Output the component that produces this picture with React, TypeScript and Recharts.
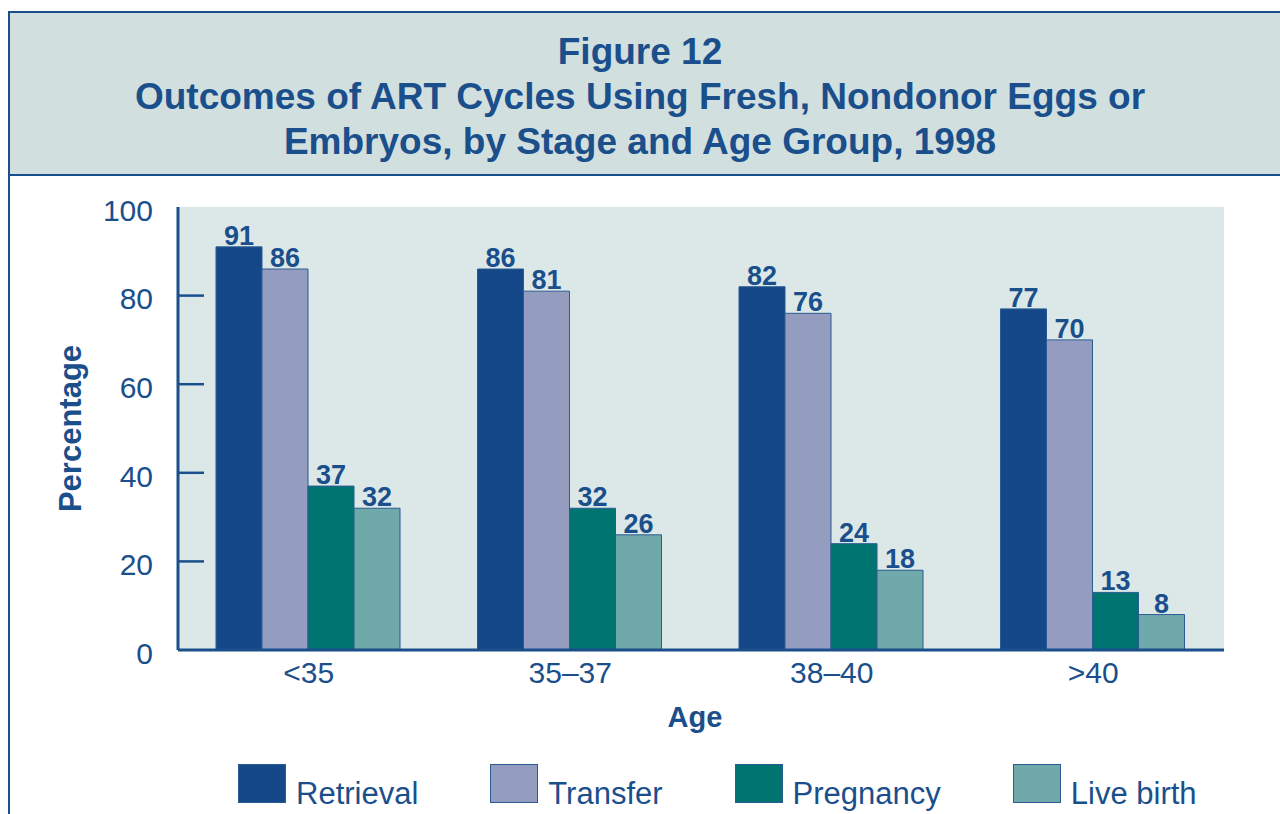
import { Bar, BarChart, CartesianGrid, LabelList, Legend, XAxis, YAxis } from "recharts";

// Age groups and outcome percentages (1998)
const ageGroups = ["<35", "35–37", "38–40", ">40"];
const retrieval = [91, 86, 82, 77];
const transfer = [86, 81, 76, 70];
const pregnancy = [37, 32, 24, 13];
const liveBirth = [32, 26, 18, 8];
const yTicks = [0, 20, 40, 60, 80, 100];
const titleLines = [
    "Figure 12",
    "Outcomes of ART Cycles Using Fresh, Nondonor Eggs or",
    "Embryos, by Stage and Age Group, 1998",
];

const series = [
    { key: "retrieval", name: "Retrieval", color: "#144889" },
    { key: "transfer", name: "Transfer", color: "#949cc0" },
    { key: "pregnancy", name: "Pregnancy", color: "#007471" },
    { key: "liveBirth", name: "Live birth", color: "#6fa9a9" },
];

const data = ageGroups.map((age, i) => ({
    age,
    retrieval: retrieval[i],
    transfer: transfer[i],
    pregnancy: pregnancy[i],
    liveBirth: liveBirth[i],
}));

const NAVY = "#1a4f8c";
const FONT = "'Liberation Sans', Arial, Helvetica, sans-serif";
const Y_TICK_MARGIN = 25;

// tick label on the left plus a short tick pointing into the plot
const YTick = ({ x, y, payload }: any) => {
    const axisX = x + Y_TICK_MARGIN;
    const v = payload.value;
    return (
        <g>
            {v !== 0 && v !== 100 && (
                <line x1={axisX} x2={axisX + 26} y1={y} y2={y} stroke={NAVY} strokeWidth={2.5} />
            )}
            <text x={x} y={y} dy="0.46em" textAnchor="end" fill={NAVY} fontSize={30}>
                {v}
            </text>
        </g>
    );
};

const YLabel = ({ viewBox }: any) => {
    const cy = viewBox.y + viewBox.height / 2;
    return (
        <text
            transform={`translate(81, ${cy}) rotate(-90)`}
            textAnchor="middle"
            fill={NAVY}
            fontSize={31}
            fontWeight="bold"
        >
            Percentage
        </text>
    );
};

const XLabel = ({ viewBox }: any) => (
    <text
        x={viewBox.x + viewBox.width / 2 - 6}
        y={viewBox.y + 77}
        textAnchor="middle"
        fill={NAVY}
        fontSize={29}
        fontWeight="bold"
    >
        Age
    </text>
);

const CustomLegend = () => (
    <div style={{ display: "flex", gap: 72, alignItems: "flex-end" }}>
        {series.map((s) => (
            <div key={s.key} style={{ display: "flex", alignItems: "flex-end" }}>
                <div
                    style={{
                        width: 46,
                        height: 37,
                        background: s.color,
                        border: "1px solid #2b5b92",
                        marginRight: 10,
                    }}
                />
                <span style={{ fontSize: 31, color: NAVY, lineHeight: "31px", marginBottom: -6 }}>
                    {s.name}
                </span>
            </div>
        ))}
    </div>
);

export default function App() {
    return (
        <div
            style={{
                position: "fixed",
                left: 0,
                top: 0,
                width: 1280,
                height: 814,
                overflow: "hidden",
                background: "#fff",
                fontFamily: FONT,
            }}
        >
            {/* frame */}
            <div
                style={{
                    position: "absolute",
                    left: 8,
                    top: 11,
                    width: 1300,
                    height: 900,
                    borderLeft: `2px solid ${NAVY}`,
                    borderTop: `2px solid ${NAVY}`,
                }}
            />
            {/* title band */}
            <div
                style={{
                    position: "absolute",
                    left: 10,
                    top: 13,
                    width: 1300,
                    height: 161,
                    background: "#d1dfdf",
                    borderBottom: `2px solid ${NAVY}`,
                }}
            />
            <div
                style={{
                    position: "absolute",
                    left: 9,
                    top: 29,
                    width: 1262,
                    textAlign: "center",
                    color: NAVY,
                    fontWeight: "bold",
                    fontSize: 37,
                    lineHeight: "45px",
                }}
            >
                {titleLines.map((t) => (
                    <div key={t}>{t}</div>
                ))}
            </div>

            <div style={{ position: "absolute", left: 0, top: 0 }}>
                <BarChart
                    width={1280}
                    height={814}
                    data={data}
                    margin={{ top: 207, right: 56, bottom: 64, left: 0 }}
                    barCategoryGap={38}
                    barGap={0}
                >
                    <CartesianGrid fill="#dce8e8" horizontal={false} vertical={false} />

                    <XAxis
                        xAxisId="main"
                        dataKey="age"
                        height={100}
                        axisLine={{ stroke: NAVY, strokeWidth: 3 }}
                        tickLine={false}
                        tickSize={0}
                        tickMargin={12}
                        tick={{ fill: NAVY, fontSize: 30 }}
                        label={{ content: <XLabel /> }}
                    />
                    <XAxis
                        xAxisId="top"
                        dataKey="age"
                        orientation="top"
                        height={0}
                        tick={false}
                        tickLine={false}
                        axisLine={{ stroke: NAVY, strokeWidth: 3 }}
                    />
                    <YAxis
                        yAxisId="main"
                        width={178}
                        domain={[0, 100]}
                        ticks={yTicks}
                        interval={0}
                        axisLine={{ stroke: NAVY, strokeWidth: 3 }}
                        tickLine={false}
                        tickSize={0}
                        tickMargin={Y_TICK_MARGIN}
                        tick={<YTick />}
                        label={{ content: <YLabel /> }}
                    />
                    <YAxis
                        yAxisId="right"
                        orientation="right"
                        width={0}
                        domain={[0, 100]}
                        tick={false}
                        tickLine={false}
                        axisLine={{ stroke: NAVY, strokeWidth: 3 }}
                    />

                    <Legend
                        layout="horizontal"
                        verticalAlign="middle"
                        align="center"
                        content={<CustomLegend />}
                        wrapperStyle={{ top: 764, left: 238, width: 1000 }}
                    />

                    {series.map((s) => (
                        <Bar
                            key={s.key}
                            xAxisId="main"
                            yAxisId="main"
                            dataKey={s.key}
                            name={s.name}
                            fill={s.color}
                            stroke="#2b5b92"
                            strokeWidth={1}
                            isAnimationActive={false}
                        >
                            <LabelList
                                dataKey={s.key}
                                position="top"
                                offset={2}
                                fill={NAVY}
                                fontSize={27}
                                fontWeight="bold"
                            />
                        </Bar>
                    ))}
                </BarChart>
            </div>
        </div>
    );
}
